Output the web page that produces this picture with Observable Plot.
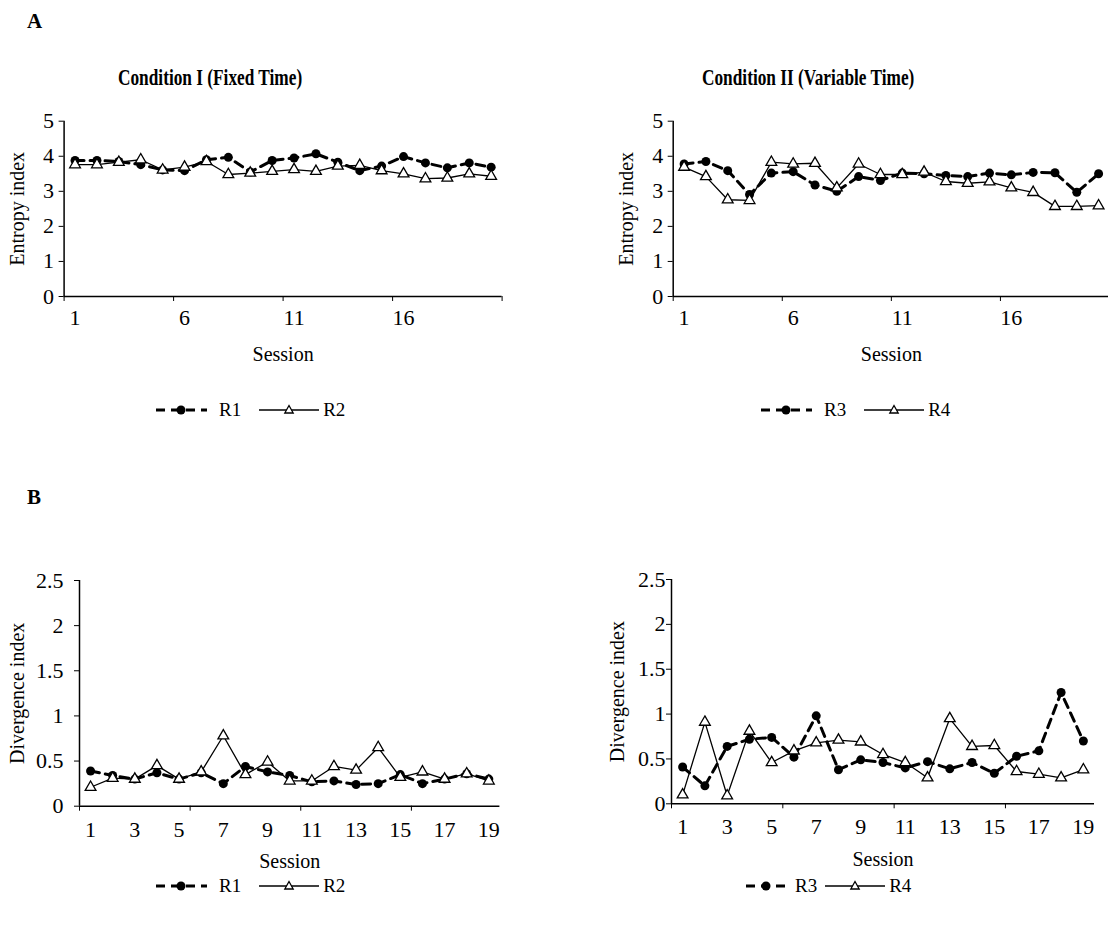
<!DOCTYPE html>
<html><head><meta charset="utf-8">
<script src="https://cdn.jsdelivr.net/npm/d3@7"></script>
<script src="https://cdn.jsdelivr.net/npm/@observablehq/plot@0.6"></script>
<style>
body{margin:0;background:#fff;font-family:"Liberation Serif","Times New Roman",serif;color:#000;}
#wrap{position:relative;width:1108px;height:932px;overflow:hidden;background:#fff;}
.abs{position:absolute;}
.letter{font-weight:bold;font-size:21px;}
.title{font-weight:bold;font-size:24px;white-space:nowrap;transform:scaleX(0.72);transform-origin:left top;}
.legend{display:flex;align-items:center;font-size:19px;white-space:nowrap;}
</style></head><body><div id="wrap"></div>
<script>
// ---- data ----
const sessionsA = [1,2,3,4,5,6,7,8,9,10,11,12,13,14,15,16,17,18,19,20];
const sessionsB = [1,2,3,4,5,6,7,8,9,10,11,12,13,14,15,16,17,18,19];
const xLabelsA = [1,6,11,16];
const xLabelsB = [1,3,5,7,9,11,13,15,17,19];
const yTicksA = [0,1,2,3,4,5];
const yTicksB = [0,0.5,1,1.5,2,2.5];
const titleI = "Condition I (Fixed Time)";
const titleII = "Condition II (Variable Time)";

const entropyR1 = [3.88,3.88,3.85,3.76,3.61,3.59,3.90,3.97,3.55,3.88,3.95,4.07,3.83,3.59,3.72,3.99,3.81,3.67,3.81,3.69];
const entropyR2 = [3.76,3.76,3.83,3.90,3.61,3.69,3.85,3.48,3.52,3.57,3.62,3.57,3.72,3.74,3.59,3.50,3.36,3.38,3.50,3.43];
const entropyR3 = [3.78,3.85,3.59,2.91,3.52,3.56,3.18,3.00,3.42,3.31,3.52,3.50,3.45,3.42,3.52,3.47,3.54,3.53,2.97,3.50];
const entropyR4 = [3.69,3.42,2.76,2.74,3.83,3.78,3.80,3.10,3.78,3.48,3.48,3.55,3.28,3.23,3.27,3.10,2.97,2.57,2.57,2.59];

const divR1 = [0.39,0.34,0.30,0.37,0.30,0.37,0.25,0.44,0.38,0.34,0.27,0.28,0.24,0.25,0.35,0.25,0.30,0.36,0.30];
const divR2 = [0.21,0.31,0.30,0.45,0.30,0.38,0.78,0.35,0.49,0.28,0.28,0.44,0.40,0.65,0.32,0.38,0.30,0.36,0.28];
const divR3 = [0.41,0.20,0.64,0.72,0.74,0.52,0.98,0.38,0.49,0.46,0.40,0.47,0.39,0.46,0.34,0.53,0.59,1.24,0.70];
const divR4 = [0.10,0.91,0.09,0.81,0.46,0.59,0.68,0.71,0.69,0.55,0.46,0.29,0.95,0.64,0.65,0.36,0.33,0.29,0.38];

const wrap = document.getElementById("wrap");

function place(el, left, top) {
  el.classList.add("abs");
  el.style.left = left + "px";
  el.style.top = top + "px";
  wrap.appendChild(el);
  return el;
}
function textDiv(cls, txt, left, top) {
  const d = document.createElement("div");
  d.className = cls;
  d.textContent = txt;
  return place(d, left, top);
}

function panel(c) {
  const rows = c.sessions.map((s, i) => ({session: s, a: c.a[i], b: c.b[i]}));
  const n = c.sessions.length;
  const chart = Plot.plot({
    width: c.w, height: c.h,
    marginLeft: c.ml, marginRight: c.mr, marginTop: c.mt, marginBottom: c.mb,
    style: {fontFamily: '"Liberation Serif", "Times New Roman", serif', fontSize: "20px", color: "#000", background: "transparent", overflow: "visible"},
    x: {domain: [0.5, n + 0.5]},
    y: {domain: c.yDomain},
    marks: [
      Plot.axisY({ticks: c.yTicks, tickSize: 5, tickPadding: c.yPad, tickFormat: d => String(d), fontSize: 22, label: null}),
      Plot.axisY({ticks: [], label: c.yLabel, labelAnchor: "center", labelArrow: "none", labelOffset: c.yLabelOffset, fontSize: 20}),
      Plot.axisX({ticks: c.xLabels, tickSize: 0, tickPadding: c.xPad, tickFormat: d => String(d), fontSize: 22, label: null}),
      Plot.axisX({ticks: [], label: "Session", labelAnchor: "center", labelArrow: "none", labelOffset: c.xLabelOffset, fontSize: 20}),
      Plot.axisX({ticks: c.xTickMarks, tickSize: 5, tickFormat: () => "", label: null}),
      Plot.ruleX([0.5], {stroke: "#000", strokeWidth: 1.5}),
      Plot.ruleY([0], {stroke: "#000", strokeWidth: 1.5}),
      Plot.line(rows, {x: "session", y: "a", stroke: "#000", strokeWidth: 3, strokeDasharray: "9,6"}),
      Plot.dot(rows, {x: "session", y: "a", r: 4.5, fill: "#000", stroke: "none"}),
      Plot.line(rows, {x: "session", y: "b", stroke: "#000", strokeWidth: 1.3}),
      Plot.dot(rows, {x: "session", y: "b", symbol: "triangle", r: 4, fill: "#fff", stroke: "#000", strokeWidth: 1.3})
    ]
  });
  place(chart, c.left, c.top);
}

function legend(left, top, l1, l2, sw1, g1, g2, sw2, g3) {
  const d = document.createElement("div");
  d.className = "legend";
  d.innerHTML =
    `<svg width="${sw1}" height="12"><line x1="0" y1="6" x2="${sw1}" y2="6" stroke="#000" stroke-width="3" stroke-dasharray="9,6" stroke-dashoffset="-1"/><circle cx="${sw1/2}" cy="6" r="4.5" fill="#000"/></svg>` +
    `<span style="margin-left:${g1}px;margin-right:${g2}px">${l1}</span>` +
    `<svg width="${sw2}" height="12"><line x1="0" y1="6" x2="${sw2}" y2="6" stroke="#000" stroke-width="1.3"/><path transform="translate(${sw2/2},6)" d="M0,-4.5L4.2,3L-4.2,3Z" fill="#fff" stroke="#000" stroke-width="1.3"/></svg>` +
    `<span style="margin-left:${g3}px">${l2}</span>`;
  place(d, left, top);
}

// letters and titles
textDiv("letter", "A", 27, 9);
textDiv("letter", "B", 27, 485);
textDiv("title", titleI, 118, 64);
textDiv("title", titleII, 702, 64);

// panels
panel({sessions: sessionsA, a: entropyR1, b: entropyR2, yDomain: [0,5], yTicks: yTicksA,
  xLabels: xLabelsA, xTickMarks: [0.5,5.5,10.5,15.5,20.5], yLabel: "Entropy index",
  w: 520, h: 275, ml: 63.6, mr: 18.4, mt: 20.7, mb: 79, left: 0, top: 100,
  xPad: 13, yPad: 5, xLabelOffset: 64, yLabelOffset: 54});
panel({sessions: sessionsA, a: entropyR3, b: entropyR4, yDomain: [0,5], yTicks: yTicksA,
  xLabels: xLabelsA, xTickMarks: [0.5,5.5,10.5,15.5,20.5], yLabel: "Entropy index",
  w: 520, h: 275, ml: 72.7, mr: 11, mt: 20.7, mb: 79, left: 600, top: 100,
  xPad: 13, yPad: 5, xLabelOffset: 64, yLabelOffset: 54});
panel({sessions: sessionsB, a: divR1, b: divR2, yDomain: [0,2.5], yTicks: yTicksB,
  xLabels: xLabelsB, xTickMarks: [0.5,5.5,10.5,15.5], yLabel: "Divergence index",
  w: 520, h: 340, ml: 79, mr: 20.6, mt: 40, mb: 74.3, left: 0, top: 540,
  xPad: 15, yPad: 11, xLabelOffset: 62, yLabelOffset: 70});
panel({sessions: sessionsB, a: divR3, b: divR4, yDomain: [0,2.5], yTicks: yTicksB,
  xLabels: xLabelsB, xTickMarks: [0.5,5.5,10.5,15.5], yLabel: "Divergence index",
  w: 508, h: 340, ml: 71, mr: 14, mt: 39, mb: 76.7, left: 600, top: 540,
  xPad: 15, yPad: 1, xLabelOffset: 62, yLabelOffset: 62});

// legends
legend(155, 399, "R1", "R2", 52, 12, 18, 60, 4);
legend(760, 399, "R3", "R4", 52, 12, 18, 60, 4);
legend(155, 875, "R1", "R2", 52, 12, 18, 60, 4);
legend(745, 875, "R3", "R4", 42, 8, 8, 60, 4);
</script>
</body></html>
